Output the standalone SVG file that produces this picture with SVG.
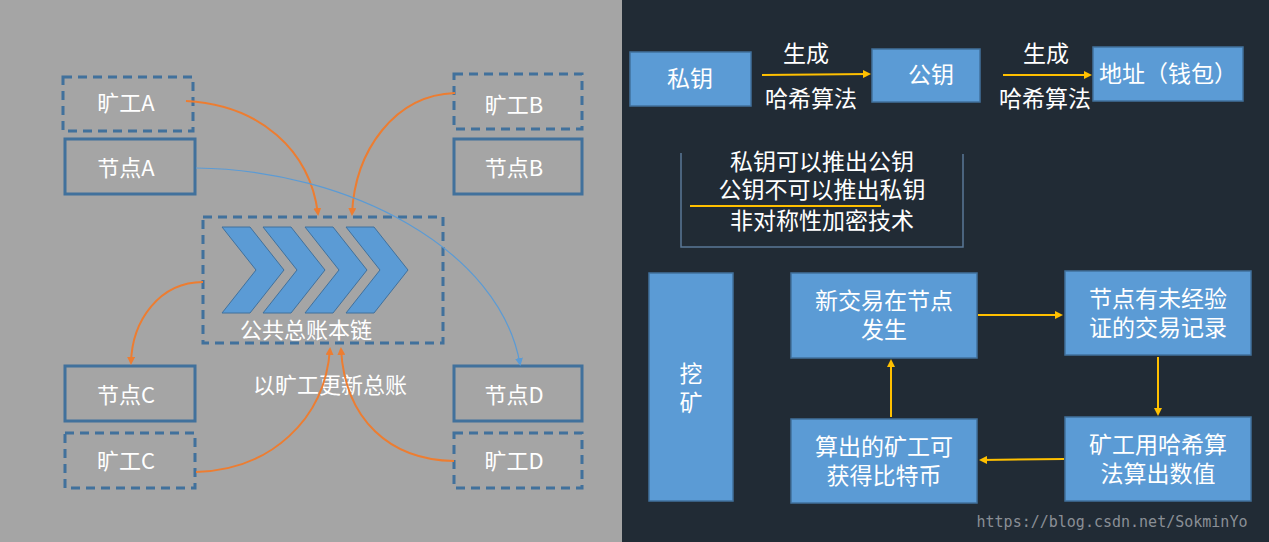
<svg xmlns="http://www.w3.org/2000/svg" width="1269" height="542" viewBox="0 0 1269 542">
<style>
text{font-family:"Noto Sans CJK SC","Liberation Sans",sans-serif;fill:#fff;text-anchor:middle}
.l{font-size:22px}.r{font-size:23px}
.dash{fill:none;stroke:#41719c;stroke-width:3;stroke-dasharray:9,6}
.solid{fill:none;stroke:#41719c;stroke-width:3}
.bx{fill:#5b9bd5;stroke:#41719c;stroke-width:1.5}
.or{fill:none;stroke:#ed7d31;stroke-width:2}
.y{fill:none;stroke:#ffc000;stroke-width:2}
</style>
<defs>
<marker id="ao" markerWidth="8" markerHeight="8" refX="6" refY="4" orient="auto" markerUnits="userSpaceOnUse"><path d="M0,0L8,4L0,8z" fill="#ed7d31"/></marker>
<marker id="ab" markerWidth="8" markerHeight="8" refX="6" refY="4" orient="auto" markerUnits="userSpaceOnUse"><path d="M0,0L8,4L0,8z" fill="#5b9bd5"/></marker>
<marker id="ay" markerWidth="8" markerHeight="8" refX="6" refY="4" orient="auto" markerUnits="userSpaceOnUse"><path d="M0,0L8,4L0,8z" fill="#ffc000"/></marker>
</defs>
<rect x="0" y="0" width="622" height="542" fill="#a5a5a5"/>
<rect x="622" y="0" width="647" height="542" fill="#212b35"/>
<g id="minerA"><rect class="dash" x="63" y="77" width="130" height="54"/><text class="l" x="126" y="111">旷工A</text></g>
<g id="nodeA"><rect class="solid" x="65" y="139" width="130" height="55"/><text class="l" x="126" y="176">节点A</text></g>
<g id="minerB"><rect class="dash" x="454" y="74" width="128" height="55"/><text class="l" x="514" y="113">旷工B</text></g>
<g id="nodeB"><rect class="solid" x="454" y="139" width="128" height="55"/><text class="l" x="514" y="176">节点B</text></g>
<g id="chain"><rect class="dash" x="203" y="217" width="240" height="126"/>
<g fill="#5b9bd5" stroke="#41719c" stroke-width="1">
<path d="M222,227h28l34,43l-34,43h-28l34,-43z"/>
<path d="M263,227h28l34,43l-34,43h-28l34,-43z"/>
<path d="M305,227h28l34,43l-34,43h-28l34,-43z"/>
<path d="M346,227h28l34,43l-34,43h-28l34,-43z"/>
</g>
<text class="l" x="306" y="338">公共总账本链</text></g>
<text class="l" x="330" y="393">以旷工更新总账</text>
<g id="nodeC"><rect class="solid" x="65" y="366" width="130" height="55"/><text class="l" x="126" y="403">节点C</text></g>
<g id="minerC"><rect class="dash" x="65" y="433" width="130" height="55"/><text class="l" x="126" y="469">旷工C</text></g>
<g id="nodeD"><rect class="solid" x="454" y="366" width="128" height="55"/><text class="l" x="514" y="403">节点D</text></g>
<g id="minerD"><rect class="dash" x="454" y="433" width="128" height="55"/><text class="l" x="514" y="469">旷工D</text></g>
<g id="privkey"><rect class="bx" x="630" y="52" width="121" height="54"/><text class="r" x="690" y="87">私钥</text></g>
<g id="pubkey"><rect class="bx" x="872" y="49" width="108" height="53"/><text class="r" x="931" y="83">公钥</text></g>
<g id="address"><rect class="bx" x="1093" y="47" width="150" height="54"/><text class="r" x="1168" y="82">地址（钱包）</text></g>
<text class="r" x="806" y="62">生成</text><text class="r" x="811" y="107">哈希算法</text>
<text class="r" x="1046" y="62">生成</text><text class="r" x="1045" y="107">哈希算法</text>
<g id="note"><path d="M681,153V247H963V154" fill="none" stroke="#5a7896" stroke-width="1.5"/>
<text class="r" x="822" y="170">私钥可以推出公钥</text>
<text class="r" x="822" y="198">公钥不可以推出私钥</text>
<text class="r" x="822" y="229">非对称性加密技术</text>
<line x1="690" y1="206" x2="881" y2="206" stroke="#ffc000" stroke-width="2"/></g>
<g id="mining"><rect class="bx" x="649" y="273" width="84" height="228"/><text class="r" x="691" y="382">挖</text><text class="r" x="691" y="411">矿</text></g>
<g id="s1"><rect class="bx" x="791" y="273" width="186" height="85"/><text class="r" x="884" y="309">新交易在节点</text><text class="r" x="884" y="338">发生</text></g>
<g id="s2"><rect class="bx" x="1065" y="271" width="186" height="84"/><text class="r" x="1158" y="307">节点有未经验</text><text class="r" x="1158" y="336">证的交易记录</text></g>
<g id="s3"><rect class="bx" x="1065" y="417" width="186" height="84"/><text class="r" x="1158" y="453">矿工用哈希算</text><text class="r" x="1158" y="482">法算出数值</text></g>
<g id="s4"><rect class="bx" x="791" y="419" width="186" height="84"/><text class="r" x="884" y="455">算出的矿工可</text><text class="r" x="884" y="484">获得比特币</text></g>
<g id="connectors">
<path class="or" d="M186,101C260,105 310,150 318,214" marker-end="url(#ao)"/>
<path class="or" d="M455,93C395,95 355,150 352,214" marker-end="url(#ao)"/>
<path class="or" d="M203,282C160,282 132,320 131,363" marker-end="url(#ao)"/>
<path class="or" d="M196,472C270,470 325,420 330,349" marker-end="url(#ao)"/>
<path class="or" d="M454,461C390,460 345,420 341,349" marker-end="url(#ao)"/>
<path d="M196,168C350,170 500,250 520,364" fill="none" stroke="#5b9bd5" stroke-width="1.2" marker-end="url(#ab)"/>
<line class="y" x1="762" y1="75" x2="869" y2="74" marker-end="url(#ay)"/>
<line class="y" x1="1003" y1="75" x2="1090" y2="75" marker-end="url(#ay)"/>
<line class="y" x1="978" y1="315" x2="1061" y2="315" marker-end="url(#ay)"/>
<line class="y" x1="1158" y1="357" x2="1158" y2="414" marker-end="url(#ay)"/>
<line class="y" x1="1064" y1="459" x2="981" y2="460" marker-end="url(#ay)"/>
<line class="y" x1="891" y1="417" x2="891" y2="361" marker-end="url(#ay)"/>
</g>
<text x="1112" y="527" style="font-family:'DejaVu Sans Mono',monospace;font-size:15px;fill:#8a8f96">https://blog.csdn.net/SokminYo</text>
</svg>
